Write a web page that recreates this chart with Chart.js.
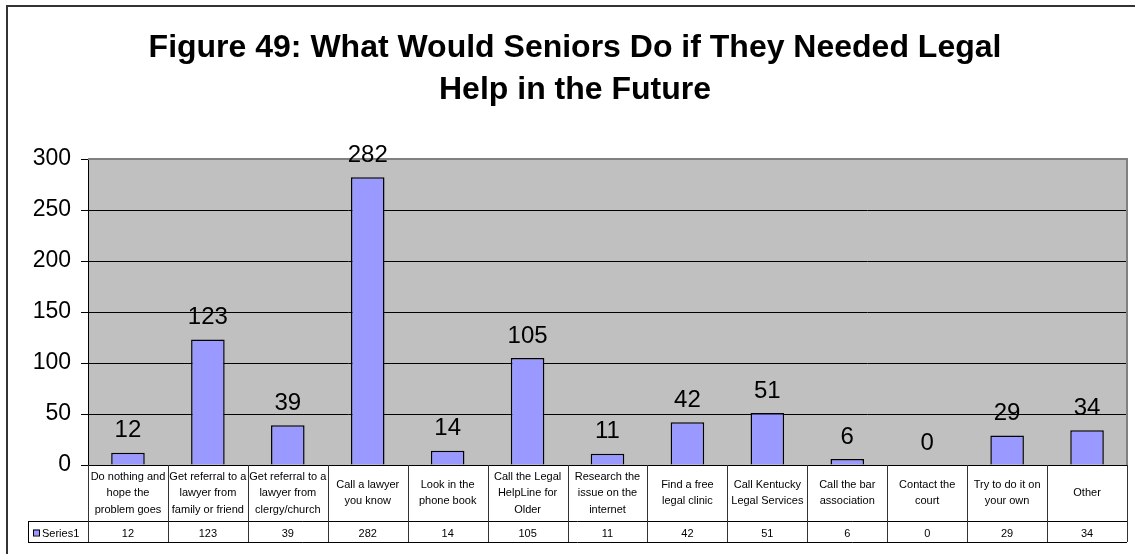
<!DOCTYPE html>
<html>
<head>
<meta charset="utf-8">
<script src="https://cdn.jsdelivr.net/npm/chart.js@4/dist/chart.umd.min.js"></script>
<style>
  html, body { margin: 0; padding: 0; background: #ffffff; }
  #wrap { width: 1135px; height: 554px; position: relative; }
</style>
</head>
<body>
<div id="wrap"><canvas id="c" width="1135" height="554"></canvas></div>
<script>
// ---- data ----
const titleLines = ["Figure 49: What Would Seniors Do if They Needed Legal", "Help in the Future"];
const categories = [
  ["Do nothing and", "hope the", "problem goes"],
  ["Get referral to a", "lawyer from", "family or friend"],
  ["Get referral to a", "lawyer from", "clergy/church"],
  ["Call a lawyer", "you know"],
  ["Look in the", "phone book"],
  ["Call the Legal", "HelpLine for", "Older"],
  ["Research the", "issue on the", "internet"],
  ["Find a free", "legal clinic"],
  ["Call Kentucky", "Legal Services"],
  ["Call the bar", "association"],
  ["Contact the", "court"],
  ["Try to do it on", "your own"],
  ["Other"]
];
const seriesName = "Series1";
const seriesValues = [12, 123, 39, 282, 14, 105, 11, 42, 51, 6, 0, 29, 34];
const yTicks = [0, 50, 100, 150, 200, 250, 300];

const BAR_COLOR = '#9999FF';
const FONT = 'Arial, "Liberation Sans", sans-serif';

const framePlugin = {
  id: 'frame',
  beforeDraw(chart) {
    const ctx = chart.ctx, a = chart.chartArea;
    ctx.save();
    ctx.fillStyle = '#ffffff';
    ctx.fillRect(0, 0, chart.width, chart.height);
    // outer chart border
    ctx.strokeStyle = '#333333';
    ctx.lineWidth = 2;
    ctx.strokeRect(7, 6, chart.width + 20, chart.height + 20);
    // plot area background
    ctx.fillStyle = '#C0C0C0';
    ctx.fillRect(a.left, a.top, a.right - a.left, a.bottom - a.top);
    // title
    ctx.fillStyle = '#000000';
    ctx.font = 'bold 32px ' + FONT;
    ctx.textAlign = 'center';
    ctx.textBaseline = 'alphabetic';
    const cx = 575;
    titleLines.forEach((t, i) => ctx.fillText(t, cx, 57 + i * 42));
    ctx.restore();
  },
  afterDatasetsDraw(chart) {
    const ctx = chart.ctx, a = chart.chartArea;
    const meta = chart.getDatasetMeta(0);
    ctx.save();
    // plot border top/right (gray)
    ctx.strokeStyle = '#808080';
    ctx.lineWidth = 2;
    ctx.beginPath();
    ctx.moveTo(a.left, a.top);
    ctx.lineTo(a.right, a.top);
    ctx.lineTo(a.right, a.bottom);
    ctx.stroke();
    // data labels
    ctx.fillStyle = '#000000';
    ctx.font = '24px ' + FONT;
    ctx.textAlign = 'center';
    ctx.textBaseline = 'middle';
    meta.data.forEach((bar, i) => {
      ctx.fillText(String(seriesValues[i]), bar.x, bar.y - 22);
    });
    ctx.restore();
  },
  afterDraw(chart) {
    const ctx = chart.ctx, a = chart.chartArea;
    const xs = chart.scales.x;
    const n = categories.length;
    const w = (a.right - a.left) / n;
    const rowTop = a.bottom;
    const rowMid = a.bottom + 56;
    const rowBot = a.bottom + 77;
    const keyLeft = 28;
    ctx.save();
    ctx.strokeStyle = '#000000';
    ctx.lineWidth = 1;
    // horizontal lines
    ctx.beginPath();
    ctx.moveTo(a.left, rowTop + 0.5); ctx.lineTo(a.right, rowTop + 0.5);
    ctx.moveTo(keyLeft, rowMid + 0.5); ctx.lineTo(a.right, rowMid + 0.5);
    ctx.moveTo(keyLeft, rowBot + 0.5); ctx.lineTo(a.right, rowBot + 0.5);
    ctx.moveTo(keyLeft + 0.5, rowMid); ctx.lineTo(keyLeft + 0.5, rowBot);
    ctx.stroke();
    // vertical lines
    ctx.strokeStyle = '#333333';
    ctx.beginPath();
    for (let i = 0; i <= n; i++) {
      const x = Math.round(a.left + i * w) + 0.5;
      ctx.moveTo(x, rowTop); ctx.lineTo(x, rowBot);
    }
    ctx.stroke();
    // category texts
    ctx.fillStyle = '#000000';
    ctx.font = '11px ' + FONT;
    ctx.textAlign = 'center';
    ctx.textBaseline = 'middle';
    const lh = 16.5;
    categories.forEach((lines, i) => {
      const x = xs.getPixelForValue(i);
      const cy = (rowTop + rowMid) / 2;
      const start = cy - (lines.length - 1) * lh / 2;
      lines.forEach((t, j) => ctx.fillText(t, x, start + j * lh));
    });
    // values row
    const vy = (rowMid + rowBot) / 2 + 2;
    seriesValues.forEach((v, i) => {
      ctx.fillText(String(v), xs.getPixelForValue(i), vy);
    });
    // legend key
    ctx.fillStyle = BAR_COLOR;
    ctx.fillRect(33, vy - 4, 6, 6);
    ctx.strokeStyle = '#000000';
    ctx.strokeRect(33.5, vy - 3.5, 6, 6);
    ctx.fillStyle = '#000000';
    ctx.textAlign = 'left';
    ctx.fillText(seriesName, 42, vy);
    ctx.restore();
  }
};

new Chart(document.getElementById('c'), {
  type: 'bar',
  data: {
    labels: categories,
    datasets: [{
      label: seriesName,
      data: seriesValues,
      backgroundColor: BAR_COLOR,
      borderColor: '#000000',
      borderWidth: 1.5,
      barPercentage: 0.42,
      categoryPercentage: 1.0
    }]
  },
  options: {
    responsive: false,
    animation: false,
    layout: { padding: { left: 0, top: 159, right: 8, bottom: 89 } },
    plugins: {
      legend: { display: false },
      title: { display: false },
      tooltip: { enabled: false }
    },
    scales: {
      x: {
        display: false,
        offset: true
      },
      y: {
        min: yTicks[0],
        max: yTicks[yTicks.length - 1],
        afterBuildTicks: (s) => { s.ticks = yTicks.map(v => ({ value: v })); },
        afterFit: (s) => { s.width = 88; },
        ticks: {
          color: '#000000',
          font: { family: FONT, size: 23 },
          padding: 10
        },
        grid: {
          color: '#000000',
          lineWidth: 1,
          tickLength: 7,
          drawTicks: true
        },
        border: { display: true, color: '#000000', width: 1 }
      }
    }
  },
  plugins: [framePlugin]
});
</script>
</body>
</html>
